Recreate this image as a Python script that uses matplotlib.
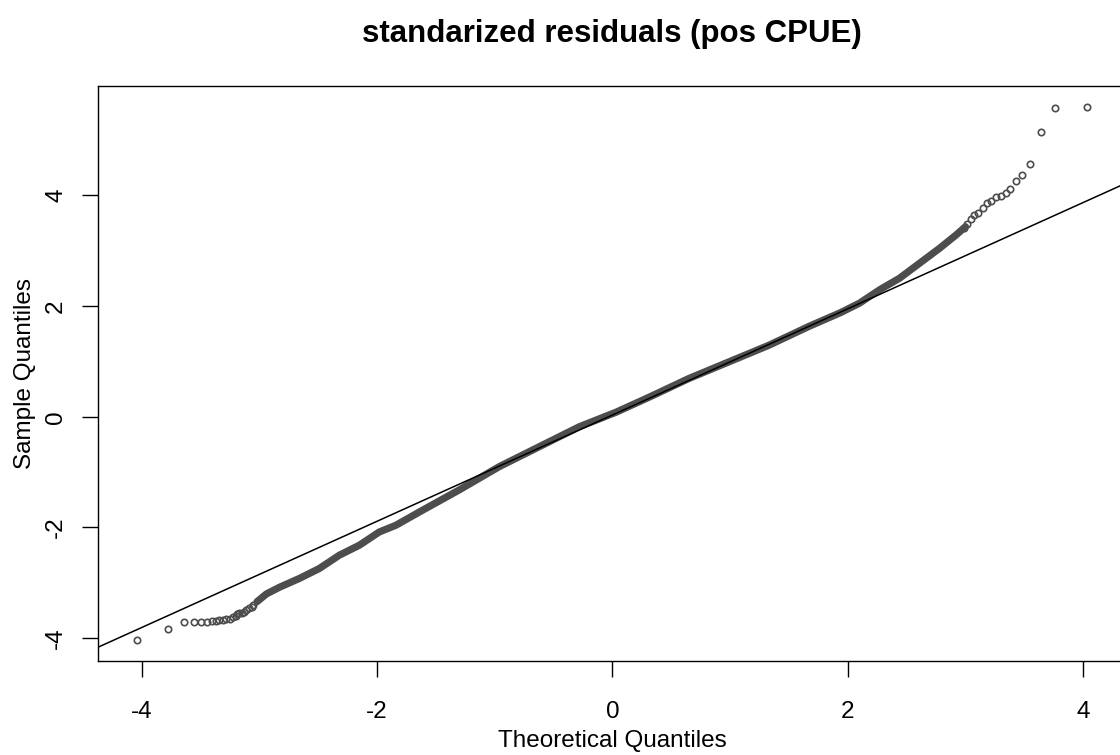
import numpy as np
import matplotlib
matplotlib.use("Agg")
import matplotlib.pyplot as plt

plt.rcParams['font.family'] = ['Liberation Sans', 'DejaVu Sans']

# dense middle of the QQ cloud (theoretical, sample)
band_x = [-3.02, -2.94, -2.83, -2.66, -2.49, -2.32, -2.15, -1.98, -1.84, -1.64,
          -1.30, -0.96, -0.62, -0.28, 0.03, 0.32, 0.65, 0.99, 1.33, 1.67,
          1.94, 2.10, 2.27, 2.44, 2.61, 2.78, 2.92, 3.00]
band_y = [-3.34, -3.20, -3.08, -2.92, -2.74, -2.50, -2.32, -2.08, -1.96, -1.72,
          -1.32, -0.90, -0.54, -0.18, 0.08, 0.36, 0.69, 0.99, 1.29, 1.63,
          1.88, 2.05, 2.29, 2.50, 2.77, 3.04, 3.28, 3.43]

# single points in the lower tail
low_x = [-4.037, -3.774, -3.643, -3.559, -3.495, -3.445, -3.405, -3.370, -3.340,
         -3.310, -3.280, -3.250, -3.222, -3.200, -3.190, -3.170, -3.150, -3.130,
         -3.110, -3.090, -3.066, -3.050]
low_y = [-4.03, -3.83, -3.71, -3.71, -3.706, -3.70, -3.693, -3.686, -3.678,
         -3.67, -3.657, -3.646, -3.621, -3.60, -3.56, -3.55, -3.538, -3.52,
         -3.489, -3.46, -3.43, -3.40]

# single points in the upper tail
high_x = [4.030, 3.764, 3.640, 3.549, 3.484, 3.430, 3.382, 3.343, 3.300, 3.258,
          3.215, 3.180, 3.145, 3.110, 3.074, 3.046, 3.017, 2.989]
high_y = [5.585, 5.567, 5.14, 4.567, 4.36, 4.25, 4.11, 4.03, 3.98, 3.97,
          3.90, 3.86, 3.76, 3.68, 3.64, 3.56, 3.48, 3.40]

# qqline
line_intercept = 0.03
line_slope = 0.959

x_ticks = [-4, -2, 0, 2, 4]
y_ticks = [-4, -2, 0, 2, 4]

pt_col = '#4d4d4d'

fig = plt.figure(figsize=(11.2, 7.55), dpi=100)
ax = fig.add_axes([0.0879, 0.1245, 0.917, 0.7616])

ax.plot(band_x, band_y, color=pt_col, lw=5.2, solid_capstyle='round',
        solid_joinstyle='round', zorder=2)
ax.plot(low_x + high_x, low_y + high_y, linestyle='none', marker='o',
        markersize=4.6, markerfacecolor='none', markeredgecolor=pt_col,
        markeredgewidth=1.2, zorder=2)
ax.axline((0, line_intercept), slope=line_slope, color='black', lw=1.1, zorder=3)

ax.set_xlim(-4.367, 4.36)
ax.set_ylim(-4.41, 5.97)
ax.set_xticks(x_ticks)
ax.set_yticks(y_ticks)
ax.set_xticklabels([str(v) for v in x_ticks])
ax.set_yticklabels([str(v) for v in y_ticks], rotation=90, va='center')
ax.tick_params(direction='out', length=11.5, width=1.0, labelsize=17.5)
ax.tick_params(axis='x', pad=17)
ax.tick_params(axis='y', pad=11)
for s in ax.spines.values():
    s.set_linewidth(1.0)

fig.text(0.5464, 0.019, 'Theoretical Quantiles', fontsize=17.5,
         ha='center', va='center')
fig.text(0.0225, 0.5054, 'Sample Quantiles', fontsize=17.5, rotation=90,
         ha='center', va='center')
fig.text(0.5464, 0.955, 'standarized residuals (pos CPUE)', fontsize=22.5,
         fontweight='bold', ha='center', va='center')

fig.savefig('out.png', dpi=100)
